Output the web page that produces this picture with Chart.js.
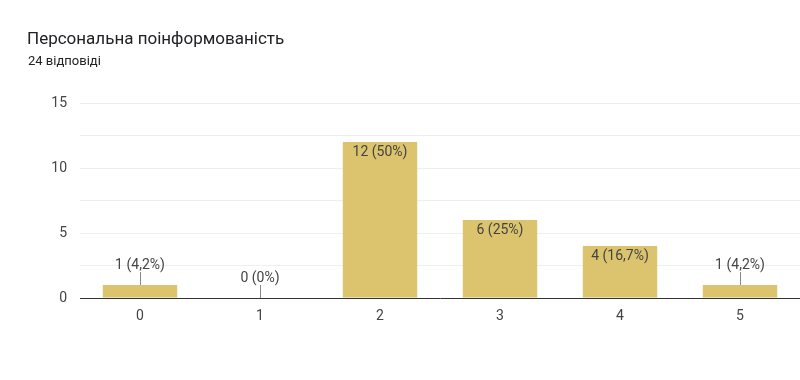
<!DOCTYPE html>
<html>
<head>
<meta charset="utf-8">
<script src="https://cdn.jsdelivr.net/npm/chart.js@4.4.0/dist/chart.umd.min.js"></script>
<style>
  body { margin: 0; background: #fff; font-family: Roboto, Arial, sans-serif; }
  #wrap { position: relative; width: 800px; height: 380px; }
  #title { position: absolute; left: 27px; top: 28px; font-size: 17px; color: #202124; }
  #sub { position: absolute; left: 28px; top: 53px; font-size: 13px; color: #202124; }
  canvas { position: absolute; left: 0; top: 0; }
</style>
</head>
<body>
<div id="wrap">
  <canvas id="canvas" width="800" height="380"></canvas>
  <div id="title">Персональна поінформованість</div>
  <div id="sub">24 відповіді</div>
</div>
<script>
var categories = ["0", "1", "2", "3", "4", "5"];
var counts = [1, 0, 12, 6, 4, 1];
var total = 24;

function pct(v){
  var p = (v / total * 100).toFixed(1);
  if (p.slice(-2) == ".0") p = p.slice(0, -2);
  return p.replace(".", ",");
}

// labels above / inside bars, like google forms
var barLabels = {
  id: "barLabels",
  afterDatasetsDraw: function(chart){
    var ctx = chart.ctx;
    var meta = chart.getDatasetMeta(0);
    ctx.save();
    ctx.font = "14px Roboto, Arial, sans-serif";
    ctx.fillStyle = "#444";
    ctx.textAlign = "center";
    ctx.textBaseline = "middle";
    meta.data.forEach(function(bar, i){
      var v = counts[i];
      var txt = v + " (" + pct(v) + "%)";
      var h = bar.base - bar.y;
      if (h > 30) {
        ctx.fillText(txt, bar.x, bar.y + 10);
      } else {
        ctx.strokeStyle = "#888";
        ctx.lineWidth = 1;
        ctx.beginPath();
        ctx.moveTo(Math.round(bar.x) + 0.5, bar.y);
        ctx.lineTo(Math.round(bar.x) + 0.5, bar.y - 13);
        ctx.stroke();
        ctx.fillText(txt, bar.x, bar.y - 20);
      }
    });
    ctx.restore();
  }
};

new Chart(document.getElementById("canvas"), {
  type: "bar",
  data: {
    labels: categories,
    datasets: [{
      data: counts,
      backgroundColor: "#dbc46d",
      barPercentage: 0.62,
      categoryPercentage: 1
    }]
  },
  options: {
    responsive: false,
    animation: false,
    layout: { padding: { top: 103, left: 0, right: 0, bottom: 0 } },
    plugins: { legend: { display: false }, tooltip: { enabled: false } },
    scales: {
      x: {
        grid: { display: false },
        border: { color: "#333", width: 1 },
        ticks: { color: "#444", font: { family: "Roboto", size: 14 }, padding: 2 },
        afterFit: function(s){ s.height = 82; }
      },
      y: {
        min: 0,
        max: 15,
        grid: { color: "#eeeeee", drawTicks: false },
        border: { display: false },
        ticks: {
          stepSize: 2.5,
          color: "#444",
          font: { family: "Roboto", size: 14 },
          padding: 13,
          callback: function(v){ return v % 5 == 0 ? v : ""; }
        },
        afterFit: function(s){ s.width = 80; }
      }
    }
  },
  plugins: [barLabels]
});
</script>
</body>
</html>
